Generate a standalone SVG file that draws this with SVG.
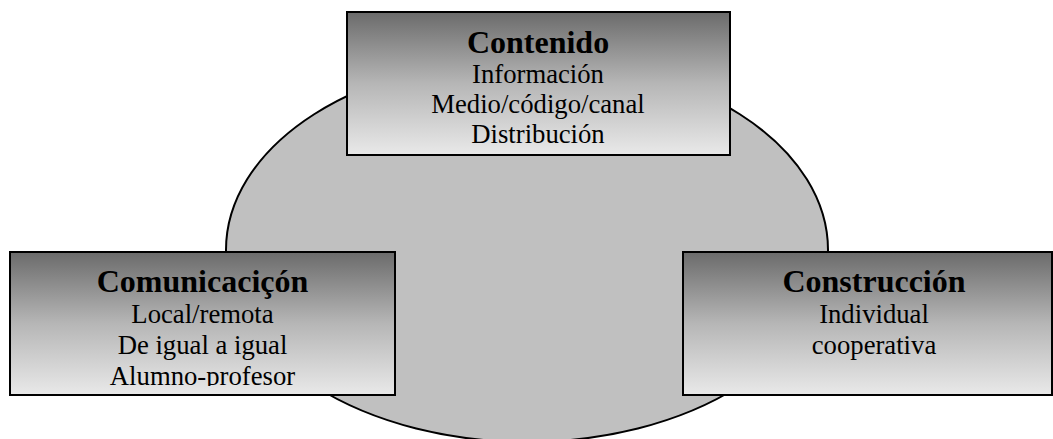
<svg xmlns="http://www.w3.org/2000/svg" width="1053" height="439" viewBox="0 0 1053 439">
<defs>
<linearGradient id="g" x1="0" y1="0" x2="0" y2="1">
<stop offset="0" stop-color="#6b6b6b"/>
<stop offset="0.5" stop-color="#b6b6b6"/>
<stop offset="1" stop-color="#e9e9e9"/>
</linearGradient>
<clipPath id="clipL"><rect x="10" y="252" width="385" height="134"/></clipPath>
</defs>
<style>
.box{fill:url(#g);stroke:#000;stroke-width:2}
.t{font-family:"Liberation Serif","Times New Roman",serif;font-weight:bold;font-size:32px;fill:#000;text-anchor:middle}
.b{font-family:"Liberation Serif","Times New Roman",serif;font-size:26.7px;fill:#000;text-anchor:middle}
</style>
<rect width="1053" height="439" fill="#fff"/>
<g id="ellipse">
<ellipse cx="527" cy="250" rx="301" ry="192" fill="#c0c0c0" stroke="#000" stroke-width="2"/>
</g>
<g id="connectors"/>
<g id="contenido">
<rect class="box" x="347" y="12" width="383" height="143"/>
<text class="t" x="538" y="53">Contenido</text>
<text class="b" x="538" y="83">Información</text>
<text class="b" x="538" y="113">Medio/código/canal</text>
<text class="b" x="538" y="143">Distribución</text>
</g>
<g id="comunicacion">
<rect class="box" x="10" y="252" width="385" height="143"/>
<g clip-path="url(#clipL)">
<text class="t" x="202.5" y="292">Comunicaciçón</text>
<text class="b" x="202.5" y="323">Local/remota</text>
<text class="b" x="202.5" y="354">De igual a igual</text>
<text class="b" x="202.5" y="385">Alumno-profesor</text>
</g>
</g>
<g id="construccion">
<rect class="box" x="683" y="252" width="369" height="143"/>
<text class="t" x="874" y="292">Construcción</text>
<text class="b" x="874" y="323">Individual</text>
<text class="b" x="874" y="354">cooperativa</text>
</g>
</svg>
